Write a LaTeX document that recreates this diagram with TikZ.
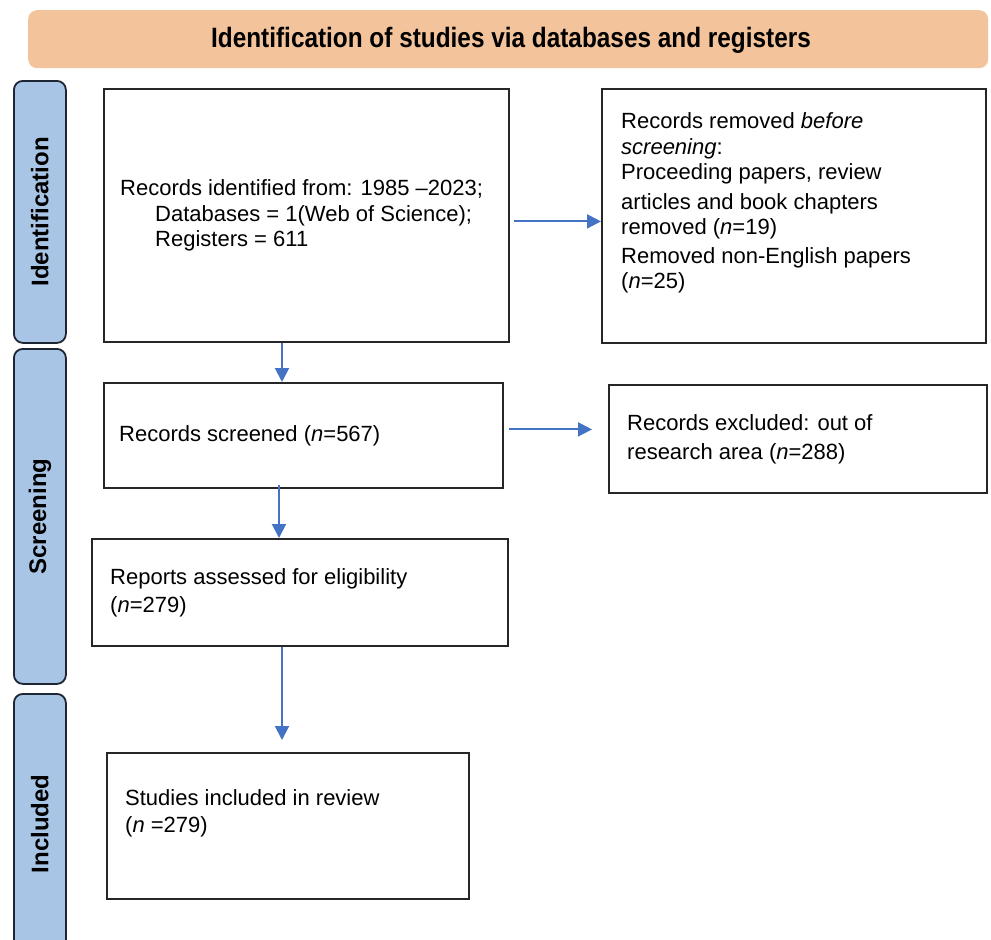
\documentclass[tikz,border=0pt]{standalone}
\usepackage{fontspec}
\setmainfont{Liberation Sans}
\newfontfamily\hdrfont[FakeStretch=0.87]{Liberation Sans}
\usetikzlibrary{arrows.meta}
\definecolor{hdrfill}{HTML}{F3C39B}
\definecolor{barfill}{HTML}{A9C5E6}
\definecolor{barline}{HTML}{1E2633}
\definecolor{arrblue}{HTML}{4472C4}
\begin{document}
\begin{tikzpicture}[x=1pt,y=-1pt,
  box/.style={draw=black!85, line width=1.8pt, anchor=north west, inner sep=0pt},
  txt/.style={anchor=west, align=left, inner sep=0pt, font=\fontsize{22}{25.5}\selectfont},
  sidebar/.style={draw=barline, fill=barfill, line width=1.8pt, rounded corners=9pt, anchor=north west, inner sep=0pt},
  sidelabel/.style={rotate=90, font=\fontsize{24}{28}\selectfont\bfseries},
  arr/.style={draw=arrblue, line width=2pt, -{Triangle[length=14pt,width=14pt]}}]
\useasboundingbox (0,0) rectangle (991,940);
\clip (0,0) rectangle (991,940);
% header
\node[fill=hdrfill, rounded corners=9pt, minimum width=960pt, minimum height=58pt, anchor=north west, inner sep=0pt] (hdr) at (28,10) {};
\node[font=\hdrfont\fontsize{28}{32}\selectfont\bfseries] (hdrt) at (511,40) {Identification of studies via databases and registers};
% side bars
\node[sidebar, minimum width=52pt, minimum height=262pt] (sb1) at (13,80) {};
\node[sidelabel] (sl1) at (sb1.center) {Identification};
\node[sidebar, minimum width=52pt, minimum height=335pt] (sb2) at (13,348) {};
\node[sidelabel] (sl2) at (sb2.center) {Screening};
\node[sidebar, minimum width=52pt, minimum height=260pt] (sb3) at (13,693) {};
\node[sidelabel] (sl3) at (sb3.center) {Included};
% boxes
\node[box, minimum width=405pt, minimum height=253pt] (b1) at (103,88) {};
\node[txt] (t1) at ([xshift=17pt]b1.west) {Records identified from: 1985 --2023;\\
\hspace*{35pt}Databases = 1(Web of Science);\\
\hspace*{35pt}Registers = 611};
\node[box, minimum width=384pt, minimum height=254pt] (b2) at (601,88) {};
\node[txt] (t2) at ([xshift=20pt,yshift=13pt]b2.west) {Records removed \textit{before}\\
\textit{screening}:\\
Proceeding papers, review\\[4pt]
articles and book chapters\\
removed (\textit{n}=19)\\[3pt]
Removed non-English papers\\
(\textit{n}=25)};
\node[box, minimum width=399pt, minimum height=105pt] (b3) at (103,382) {};
\node[txt] (t3) at ([xshift=16pt]b3.west) {Records screened (\textit{n}=567)};
\node[box, minimum width=378pt, minimum height=108pt] (b5) at (608,384) {};
\node[txt, font=\fontsize{22}{29}\selectfont] (t5) at ([xshift=19pt]b5.west) {Records excluded: out of\\
research area (\textit{n}=288)};
\node[box, minimum width=416pt, minimum height=107pt] (b4) at (91,538) {};
\node[txt, font=\fontsize{22}{28}\selectfont] (t4) at ([xshift=19pt]b4.west) {Reports assessed for eligibility\\
(\textit{n}=279)};
\node[box, minimum width=362pt, minimum height=146pt] (b6) at (106,752) {};
\node[txt, font=\fontsize{22}{27}\selectfont] (t6) at ([xshift=19pt,yshift=13pt]b6.west) {Studies included in review\\
(\textit{n} =279)};
% connectors
\draw[arr, shorten <=4pt] ([yshift=-6pt]b1.east) -- ([yshift=-6pt]b1.east -| b2.west);
\draw[arr] (b1.south -| 282,0) -- (b3.north -| 282,0);
\draw[arr, shorten <=5pt, shorten >=16pt] ([yshift=6pt]b3.east) -- ([yshift=6pt]b3.east -| b5.west);
\draw[arr, shorten <=-4pt] (b3.south -| 279,0) -- (b4.north -| 279,0);
\draw[arr, shorten >=12pt] (b4.south -| 282,0) -- (b6.north -| 282,0);
\end{tikzpicture}
\end{document}
